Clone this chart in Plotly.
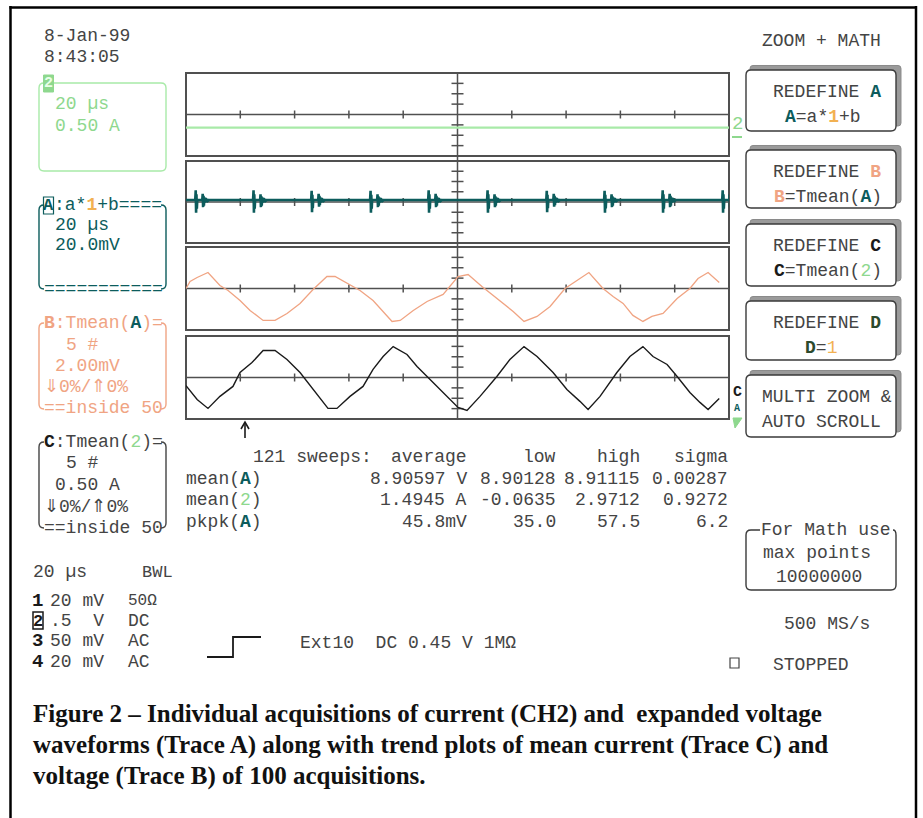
import plotly.graph_objects as go

W, H = 923, 818


def X(px):
    return px / W


def Y(py):
    return 1 - py / H


# ------------------------------------------------------------------ data
time_range_us = [0, 200]          # 10 div x 20 us

ch2_time_us = [0, 200]
ch2_current_A = [-0.63, -0.63]

traceA_baseline_mV = 4.0
spike_time_us = [3.7, 25.0, 46.4, 68.1, 89.5, 111.2, 133.0, 154.3, 175.7, 197.8]
spike_high_mV = [23, 23, 22, 22, 23, 23, 22, 22, 23, 23]
spike_low_mV = [-21, -21, -20, -21, -21, -21, -20, -21, -21, -21]
echo_high_mV = [16, 15, 16, 15, 16, 15, 16, 15, 16, 15]
echo_low_mV = [-10, -10, -9, -10, -10, -10, -9, -10, -10, -10]
ringing_mV = [9, -1, 8, 0, 6, 2]

traceB_time_us = [0.0, 1.5, 4.1, 8.1, 12.5, 15.5, 19.9, 23.6, 28.4, 32.8, 37.2, 42.0,
                  46.8, 51.9, 54.9, 59.7, 64.1, 68.9, 72.6, 75.9, 78.9, 83.7, 88.8,
                  94.7, 100.2, 103.9, 109.0, 113.1, 116.8, 120.5, 124.5, 129.3, 134.1,
                  139.6, 144.0, 148.4, 153.6, 157.3, 161.0, 164.6, 168.3, 171.6, 175.7,
                  180.9, 185.6, 188.6, 192.3, 196.4]
traceB_mV = [0.0, 1.35, 2.12, 3.08, 0.58, -0.38, -2.31, -4.23, -6.15, -6.15, -4.81, -2.88,
             -0.19, 2.31, 2.31, 0.96, -0.38, -2.31, -4.42, -6.35, -6.15, -4.23, -2.50,
             -1.15, 2.31, 2.69, 0.38, -1.35, -2.88, -4.42, -6.35, -5.38, -3.46,
             0.0, 1.54, 3.08, 0.0, -1.54, -2.88, -5.19, -6.35, -5.38, -4.81,
             -1.92, 0.0, 1.92, 3.08, 1.15]

traceC_time_us = [0.0, 4.1, 8.1, 12.5, 17.3, 19.9, 24.3, 28.4, 32.8, 37.2, 42.0, 46.8,
                  52.3, 55.6, 60.4, 65.2, 68.9, 72.6, 76.3, 81.4, 85.1, 89.9, 94.7,
                  100.2, 103.5, 108.3, 114.5, 119.3, 124.5, 129.3, 135.2, 140.3, 145.1,
                  148.1, 152.5, 158.7, 163.5, 168.3, 172.0, 177.2, 180.9, 185.6, 189.3,
                  192.3, 196.4]
traceC_A = [-0.39, -1.06, -1.49, -0.91, -0.43, 0.24, 0.72, 1.30, 1.30, 0.87, 0.24, -0.58,
            -1.49, -1.49, -0.91, -0.43, 0.39, 1.01, 1.49, 1.11, 0.53, -0.10, -0.72,
            -1.44, -1.59, -0.91, 0.05, 0.87, 1.49, 1.01, 0.24, -0.58, -1.15,
            -1.54, -0.91, 0.24, 1.01, 1.49, 1.01, 0.63, 0.05, -0.72, -1.20,
            -1.54, -1.01]

stats_columns = ["average", "low", "high", "sigma"]
stats_names = ["mean(A)", "mean(2)", "pkpk(A)"]
stats_values = [["8.90597 V", "8.90128", "8.91115", "0.00287"],
                ["1.4945 A", "-0.0635", "2.9712", "0.9272"],
                ["45.8mV", "35.0", "57.5", "6.2"]]

# ------------------------------------------------------------------ styles
MONO = "Liberation Mono"
SERIF = "Liberation Serif"
TXT = "#444444"
GRID = "#505050"
GREEN = "#8ed88e"
GREEN_LN = "#a8eaa8"
TEAL = "#0c5c5c"
SALMON = "#f0a483"
ORANGE = "#f2b152"
DKGREEN = "#2c4a2c"
BLACK = "#1a1a1a"


def col(t, c, bold=True):
    s = f'<span style="color:{c}">{t}</span>'
    return f"<b>{s}</b>" if bold else s


# panel geometry (px): left, right, tops, bottoms, volts/div
PX0, PX1 = 186, 729
panel_top = [73, 161, 247, 336]
panel_bot = [156, 243, 330, 419]
panel_scale = [0.5, 20.0, 2.0, 0.5]

# build trace A from read spike parameters
a_t = [0.0]
a_v = [traceA_baseline_mV]
b = traceA_baseline_mV
for t, hi, lo, ehi, elo in zip(spike_time_us, spike_high_mV, spike_low_mV,
                               echo_high_mV, echo_low_mV):
    pts = [(-0.3, b), (-0.12, hi), (0.02, lo), (0.15, hi - 8), (0.3, lo + 8), (0.45, b),
           (2.3, b), (2.45, ehi), (2.6, elo), (2.75, ehi - 4), (2.9, elo + 3)]
    for k, r in enumerate(ringing_mV):
        pts.append((3.05 + 0.25 * k, r))
    pts.append((4.8, b))
    for dt, v in pts:
        a_t.append(t + dt)
        a_v.append(v)
a_t.append(205)
a_v.append(b)

fig = go.Figure()

traces = [
    (ch2_time_us, ch2_current_A, GREEN_LN, 2.2),
    (a_t, a_v, TEAL, 2.6),
    (traceB_time_us, traceB_mV, SALMON, 1.3),
    (traceC_time_us, traceC_A, BLACK, 1.4),
]
for i, (xs, ys, c, w) in enumerate(traces):
    sfx = "" if i == 0 else str(i + 1)
    fig.add_trace(go.Scatter(x=xs, y=ys, mode="lines", line=dict(color=c, width=w),
                             xaxis="x" + sfx, yaxis="y" + sfx, hoverinfo="skip",
                             showlegend=False))
    fig.layout["xaxis" + sfx] = dict(domain=[X(PX0), X(PX1)], range=time_range_us,
                                     visible=False, anchor="y" + sfx, fixedrange=True)
    s = panel_scale[i]
    fig.layout["yaxis" + sfx] = dict(domain=[Y(panel_bot[i]), Y(panel_top[i])],
                                     range=[-4 * s, 4 * s], visible=False,
                                     anchor="x" + sfx, fixedrange=True)

shapes = []
annots = []


def line(x0, y0, x1, y1, c=GRID, w=1.5, layer="below"):
    shapes.append(dict(type="line", xref="paper", yref="paper", x0=X(x0), y0=Y(y0),
                       x1=X(x1), y1=Y(y1), line=dict(color=c, width=w), layer=layer))


def rect(x0, y0, x1, y1, c=GRID, w=1.5, fill=None, layer="below"):
    d = dict(type="rect", xref="paper", yref="paper", x0=X(x0), y0=Y(y0), x1=X(x1),
             y1=Y(y1), line=dict(color=c, width=w), layer=layer)
    if fill:
        d["fillcolor"] = fill
    shapes.append(d)


def path(cmds, c, w=1.5, fill=None, layer="below"):
    out = []
    for cmd in cmds:
        op, nums = cmd[0], cmd[1:]
        pts = []
        for j in range(0, len(nums), 2):
            pts.append(f"{X(nums[j]):.5f},{Y(nums[j + 1]):.5f}")
        out.append(op + " " + " ".join(pts))
    d = dict(type="path", xref="paper", yref="paper", path=" ".join(out),
             line=dict(color=c, width=w), layer=layer)
    d["fillcolor"] = fill if fill else "rgba(0,0,0,0)"
    shapes.append(d)


def rbox(x0, y0, x1, y1, r, c, w=1.5, fill=None, layer="below"):
    path([("M", x0 + r, y0), ("L", x1 - r, y0), ("Q", x1, y0, x1, y0 + r),
          ("L", x1, y1 - r), ("Q", x1, y1, x1 - r, y1), ("L", x0 + r, y1),
          ("Q", x0, y1, x0, y1 - r), ("L", x0, y0 + r), ("Q", x0, y0, x0 + r, y0)],
         c, w, fill, layer)


def sides(x0, x1, yt, yb, r, c, w=1.4):
    path([("M", x0 + r, yt), ("Q", x0, yt, x0, yt + r), ("L", x0, yb - r),
          ("Q", x0, yb, x0 + r, yb)], c, w)
    path([("M", x1 - r, yt), ("Q", x1, yt, x1, yt + r), ("L", x1, yb - r),
          ("Q", x1, yb, x1 - r, yb)], c, w)


def ann(x, y, text, c=TXT, size=18, anchor="left", family=MONO, **kw):
    annots.append(dict(x=X(x), y=Y(y), xref="paper", yref="paper", text=text,
                       showarrow=False, xanchor=anchor, yanchor="middle",
                       font=dict(family=family, size=size, color=c), **kw))


# outer frame
line(10.5, 6, 10.5, 818, "black", 2.5, "above")
line(9.5, 7.5, 917, 7.5, "black", 2.5, "above")
line(916, 6, 916, 818, "black", 2.5, "above")

# scope panels
CX = (PX0 + PX1) / 2
for t, bt in zip(panel_top, panel_bot):
    rect(PX0, t, PX1, bt, GRID, 2)
    cy = (t + bt) / 2
    line(PX0, cy, PX1, cy, GRID, 1.5)
    for k in range(1, 10):
        if k == 5:
            continue
        xk = PX0 + k * (PX1 - PX0) / 10
        line(xk, cy - 4, xk, cy + 4, GRID, 1.5)
    for k in (-3, -2, -1, 1, 2, 3):
        yk = cy + k * (bt - t) / 8
        line(CX - 6, yk, CX + 6, yk, GRID, 1.5)
line(CX, panel_top[0], CX, panel_bot[-1], GRID, 1.5)

# trace markers at right edge
ann(737, 124, "2", GREEN, 19, "center")
line(732, 137, 742, 137, GREEN, 2)
ann(737, 392, "<b>C</b>", BLACK, 15, "center")
ann(737, 408, "<b>A</b>", TEAL, 10, "center")
path([("M", 733, 418), ("L", 742, 418), ("L", 735, 428), ("Z",)], GREEN, 1, GREEN)

# trigger-position arrow
line(245, 423, 245, 438, BLACK, 1.6, "above")
path([("M", 241, 429), ("L", 245, 422), ("L", 249, 429)], BLACK, 1.6)

# date / time
ann(42, 36, "8-Jan-99")
ann(42, 57, "8:43:05")

# channel 2 box
path([("M", 53, 83), ("L", 161, 83), ("Q", 166, 83, 166, 88), ("L", 166, 166),
      ("Q", 166, 171, 161, 171), ("L", 44, 171), ("Q", 39, 171, 39, 166),
      ("L", 39, 88), ("Q", 39, 83, 44, 83)], GREEN_LN, 1.4)
rect(43.5, 75, 53.5, 92, GREEN, 1, GREEN)
ann(48.5, 83.5, "<b>2</b>", "#e8ffe8", 15, "center")
ann(53, 104, "20 µs", GREEN)
ann(53, 126, "0.50 A", GREEN)

# box A
sides(39, 166, 205, 289, 5, TEAL)
rect(43.5, 197, 53.5, 214, TEAL, 1.2)
ann(48.5, 205.5, "<b>A</b>", TEAL, 17, "center")
ann(52, 205, f':a*{col("1", ORANGE)}+b====', TEAL)
ann(53, 225, "20 µs", TEAL)
ann(53, 245, "20.0mV", TEAL)
ann(42, 289, "===========", TEAL)

# box B
sides(39, 166, 323, 409, 5, SALMON)
ann(42, 323, f'<b>B</b>:Tmean({col("A", TEAL)})=', SALMON)
ann(64, 345, "5 #", SALMON)
ann(53, 366, "2.00mV", SALMON)
ann(42, 387, "⇓0%/⇑0%", SALMON)
ann(42, 408, "==inside 50", SALMON)

# box C
sides(39, 166, 442, 528, 5, TXT)
ann(42, 442, f'<b>{col("C", BLACK, False)}</b>:Tmean({col("2", GREEN, False)})=', TXT)
ann(64, 463, "5 #", TXT)
ann(53, 485, "0.50 A", TXT)
ann(42, 507, "⇓0%/⇑0%", TXT)
ann(42, 528, "==inside 50", TXT)

# channel settings
ann(31, 572, "20 µs")
ann(140, 572, "BWL", TXT, 17)
ch_rows_y = [601, 621, 641, 662]
ch_labels = ["1", "2", "3", "4"]
ch_volts = ["20 mV", ".5\u00a0\u00a0V", "50 mV", "20 mV"]
ch_coupling = ["50Ω", "DC", "AC", "AC"]
for yy, lab, v, cp in zip(ch_rows_y, ch_labels, ch_volts, ch_coupling):
    if lab == "2":
        rect(33, 612, 43, 629, BLACK, 1.5)
        ann(38, yy, "<b>2</b>", BLACK, 17, "center")
    else:
        ann(37.5, yy, f"<b>{lab}</b>", BLACK, 19, "center")
    ann(48, yy, v)
    ann(126, yy, cp, TXT, 16 if cp == "50Ω" else 18)

# trigger symbol
path([("M", 207, 657), ("L", 233, 657), ("L", 233, 637), ("L", 261, 637)], BLACK, 1.8)
ann(298, 643, "Ext10\u00a0\u00a0DC 0.45 V 1MΩ")

# statistics
ann(251, 457, "121 sweeps:")
col_right = [469, 558, 642, 730]
for xr, h in zip(col_right, stats_columns):
    ann(xr, 457, h, TXT, 18, "right")
rows_y = [479, 500, 522]
name_html = [f'mean({col("A", TEAL)})', f'mean({col("2", GREEN, False)})',
             f'pkpk({col("A", TEAL)})']
for yy, nm, vals in zip(rows_y, name_html, stats_values):
    ann(184, yy, nm)
    for xr, v in zip(col_right, vals):
        ann(xr, yy, v, TXT, 18, "right")

# right-hand menu
ann(760, 41, "ZOOM + MATH")
btn_top = [70, 150, 224, 301, 375]
btn_bot = [131, 208, 286, 360, 437]
btn_line1 = [f'REDEFINE {col("A", TEAL)}', f'REDEFINE {col("B", SALMON)}',
             f'REDEFINE {col("C", BLACK)}', f'REDEFINE {col("D", DKGREEN)}',
             "MULTI ZOOM &"]
btn_line2 = [f'{col("A", TEAL)}=a*{col("1", ORANGE)}+b',
             f'{col("B", SALMON)}=Tmean({col("A", TEAL)})',
             f'{col("C", BLACK)}=Tmean({col("2", GREEN, False)})',
             f'{col("D", DKGREEN)}={col("1", ORANGE, False)}',
             "AUTO SCROLL"]
btn_x1 = [771, 771, 771, 771, 760]
btn_x2 = [783, 772, 772, 803, 760]
for t, bt, l1, l2, x1, x2 in zip(btn_top, btn_bot, btn_line1, btn_line2, btn_x1, btn_x2):
    rbox(750, t - 4.5, 901, bt - 5, 3, "#8a8a8a", 1, "#9a9a9a")
    rbox(746, t, 896, bt, 5, "#3a3a3a", 1.4, "white")
    ann(x1, t + 22, l1)
    ann(x2, t + 47, l2)

# "For Math use" box
path([("M", 760, 530), ("L", 751, 530), ("Q", 746, 530, 746, 535), ("L", 746, 585),
      ("Q", 746, 590, 751, 590), ("L", 891, 590), ("Q", 896, 590, 896, 585),
      ("L", 896, 535), ("Q", 896, 530, 893, 530)], "#3a3a3a", 1.4)
ann(759, 530, "For Math use")
ann(761, 553, "max points")
ann(774, 577, "10000000")
ann(782, 624, "500 MS/s")
rect(730, 658, 739, 668, TXT, 1.2)
ann(771, 665, "STOPPED")

# caption
cap = ["Figure 2 \u2013 Individual acquisitions of current (CH2) and\u00a0 expanded voltage",
       "waveforms (Trace A) along with trend plots of mean current (Trace C) and",
       "voltage (Trace B) of 100 acquisitions."]
for yy, c in zip([714, 745, 776], cap):
    ann(31, yy, f"<b>{c}</b>", "#111111", 25, "left", SERIF)

fig.update_layout(width=W, height=H, margin=dict(l=0, r=0, t=0, b=0),
                  paper_bgcolor="white", plot_bgcolor="rgba(0,0,0,0)",
                  shapes=shapes, annotations=annots, showlegend=False)

fig.write_html("out.html", config={"displayModeBar": False},
               post_script="document.body.style.margin='0';")
